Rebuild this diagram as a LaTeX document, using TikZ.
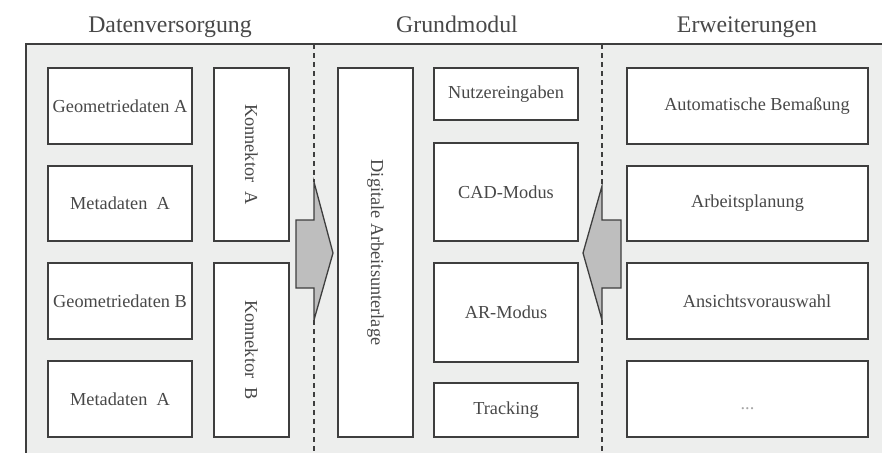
\documentclass[tikz,border=0pt]{standalone}
\usepackage{fontspec}
\setmainfont{Liberation Serif}
\definecolor{grauhell}{RGB}{237,238,237}
\definecolor{graupfeil}{RGB}{190,190,190}
\definecolor{graulinie}{RGB}{62,62,62}
\definecolor{grautext}{RGB}{72,72,72}
\usetikzlibrary{positioning}

\begin{document}
\begin{tikzpicture}[x=1pt,y=-1pt,
    kasten/.style={draw=graulinie,fill=white,line width=1.8pt,
      inner sep=0pt,text=grautext,font=\fontsize{18.3}{20}\selectfont},
    titel/.style={anchor=base,text=grautext,
      font=\fontsize{23.8}{26}\selectfont},
    trenner/.style={draw=graulinie,line width=1.3pt,
      dash pattern=on 5pt off 4pt}]
  \useasboundingbox (0,0) rectangle (882,453);
  % Hintergrund und Rahmen
  \fill[grauhell] (26,44) rectangle (882,453);
  \draw[graulinie,line width=1.8pt] (882,44)--(26,44)--(26,453);
  % Titel
  \node[titel] (tDaten) at (170,32) {Datenversorgung};
  \node[titel] (tGrund) at (457,32) {Grundmodul};
  \node[titel] (tErw) at (747,32) {Erweiterungen};
  % Trennlinien
  \draw[trenner] (314,44)--(314,182);
  \draw[trenner] (314,320)--(314,453);
  \draw[trenner] (602,44)--(602,186);
  \draw[trenner] (602,320)--(602,453);
  % Pfeile
  \filldraw[fill=graupfeil,draw=graulinie,line width=1.3pt,line join=miter]
    (296,220)--(314,220)--(314,182)--(333,253)--(314,320)
    --(314,288)--(296,288)--cycle;
  \filldraw[fill=graupfeil,draw=graulinie,line width=1.3pt,line join=miter]
    (621,220)--(602,220)--(602,186)--(583,253)--(602,320)
    --(602,288)--(621,288)--cycle;
  % Datenversorgung
  \node[kasten,minimum width=144pt,minimum height=76pt]
    (geoA) at (120,106) {Geometriedaten A};
  \node[kasten,minimum width=144pt,minimum height=75pt]
    (metaA) at (120,203.5) {Metadaten\ \ A};
  \node[kasten,minimum width=144pt,minimum height=76pt]
    (geoB) at (120,301) {Geometriedaten B};
  \node[kasten,minimum width=144pt,minimum height=76pt]
    (metaB) at (120,399) {Metadaten\ \ A};
  \node[kasten,rotate=-90,minimum width=173pt,minimum height=75pt]
    (konA) at (251.5,154.5) {Konnektor\ \ A};
  \node[kasten,rotate=-90,minimum width=174pt,minimum height=75pt]
    (konB) at (251.5,350) {Konnektor\ \ B};
  % Grundmodul
  \node[kasten,rotate=-90,minimum width=369pt,minimum height=75pt]
    (dau) at (375.5,252.5) {Digitale Arbeitsunterlage};
  \node[kasten,minimum width=144pt,minimum height=52pt]
    (nutzer) at (506,94) {Nutzereingaben};
  \node[kasten,minimum width=144pt,minimum height=98pt]
    (cad) at (506,192) {CAD-Modus};
  \node[kasten,minimum width=144pt,minimum height=99pt]
    (ar) at (506,312.5) {AR-Modus};
  \node[kasten,minimum width=144pt,minimum height=54pt]
    (track) at (506,410) {Tracking};
  % Erweiterungen
  \node[kasten,minimum width=241pt,minimum height=76pt]
    (bemass) at (747.5,106) {\hspace*{19pt}Automatische Bemaßung};
  \node[kasten,minimum width=241pt,minimum height=75pt]
    (planung) at (747.5,203.5) {Arbeitsplanung};
  \node[kasten,minimum width=241pt,minimum height=76pt]
    (ansicht) at (747.5,301) {\hspace*{19pt}Ansichtsvorauswahl};
  \node[kasten,minimum width=241pt,minimum height=76pt,text=gray!70]
    (weitere) at (747.5,399) {\raisebox{-10pt}[0pt][0pt]{...}};
\end{tikzpicture}
\end{document}
